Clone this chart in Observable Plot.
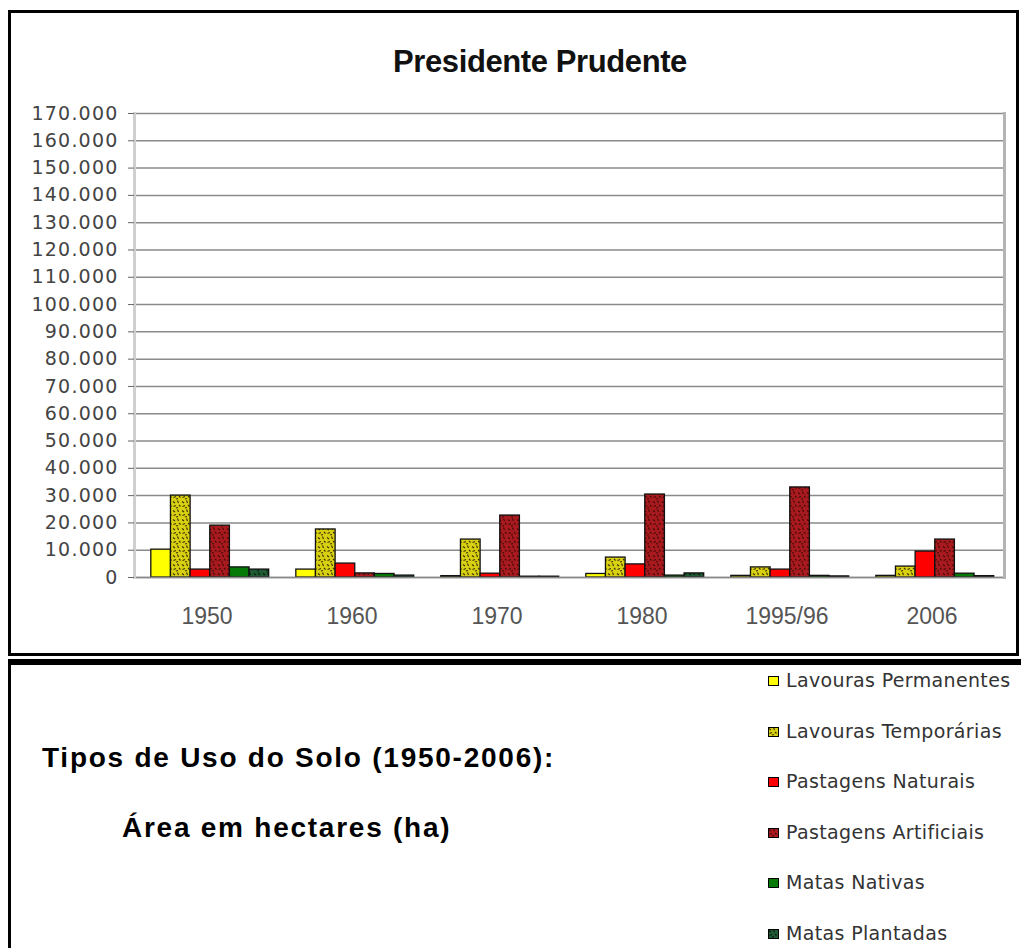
<!DOCTYPE html>
<html>
<head>
<meta charset="utf-8">
<script src="https://cdn.jsdelivr.net/npm/d3@7"></script>
<script src="https://cdn.jsdelivr.net/npm/@observablehq/plot@0.6"></script>
<style>
  html, body { margin: 0; padding: 0; background: #fff; }
  #page { position: relative; width: 1021px; height: 948px; overflow: hidden; background: #fff; }
  #topbox { position: absolute; left: 8px; top: 10px; width: 1011px; height: 646px; border: 3px solid #000; box-sizing: border-box; }
  #botbox { position: absolute; left: 8px; top: 659px; width: 1030px; height: 300px; border-left: 3px solid #000; border-top: 6px solid #000; box-sizing: border-box; }
  #title { position: absolute; left: 0; width: 1080px; top: 44px; text-align: center; font-family: "Liberation Sans", Arial, sans-serif; font-weight: bold; font-size: 31px; letter-spacing: -0.4px; color: #111; }
  #chart { position: absolute; left: 0; top: 95px; }
  .note { position: absolute; font-family: "Liberation Sans", Arial, sans-serif; font-weight: bold; font-size: 28px; letter-spacing: 1.75px; color: #000; white-space: nowrap; }
  #legend { position: absolute; left: 768px; top: 668px; font-family: "DejaVu Sans", sans-serif; font-size: 19px; color: #333; }
  .li { position: absolute; left: 0; white-space: nowrap; height: 24px; line-height: 24px; }
  .sw { position: absolute; left: 0; top: 8px; width: 11px; height: 10px; }
  .lt { position: absolute; left: 18px; top: 0; letter-spacing: 0.35px; }
  .pp g[aria-label="y-axis tick label"] text { letter-spacing: 1.2px; }
</style>
</head>
<body>
<div id="page">
  <div id="topbox"></div>
  <div id="botbox"></div>
  <div id="title">Presidente Prudente</div>
  <div id="chart"></div>
  <div class="note" style="left:42px; top:742px;">Tipos de Uso do Solo (1950-2006):</div>
  <div class="note" style="left:122px; top:812px;">Área em hectares (ha)</div>
  <div id="legend"></div>
</div>
<script>
// ---- data ----
const years = ["1950", "1960", "1970", "1980", "1995/96", "2006"];
const series = ["Lavouras Permanentes", "Lavouras Temporárias", "Pastagens Naturais", "Pastagens Artificiais", "Matas Nativas", "Matas Plantadas"];
const lavourasPermanentes = [10200, 2900, 500, 1300, 600, 600];
const lavourasTemporarias = [30000, 17600, 13900, 7300, 3700, 4000];
const pastagensNaturais   = [2900, 5100, 1400, 4800, 2900, 9500];
const pastagensArtificiais = [19000, 1500, 22700, 30400, 33000, 13900];
const matasNativas        = [3700, 1300, 300, 700, 600, 1400];
const matasPlantadas      = [2900, 700, 300, 1500, 400, 500];
// base colours; textured series get a speckle pattern on top of the base colour
const baseColors = ["#ffff00", "#d8d010", "#ff0000", "#a81a1e", "#067a06", "#1f5a33"];
const speckleColors = [null, "#3a3400", null, "#480808", null, "#061a0c"];
const yTicks = d3.range(0, 170001, 10000);

const valuesBySeries = [lavourasPermanentes, lavourasTemporarias, pastagensNaturais, pastagensArtificiais, matasNativas, matasPlantadas];
const rows = [];
years.forEach((yr, i) => series.forEach((s, j) => rows.push({year: yr, series: s, value: valuesBySeries[j][i]})));

const fills = baseColors.map((c, j) => speckleColors[j] ? `url(#pat${j})` : c);

const fmt = d3.formatLocale({decimal: ",", thousands: ".", grouping: [3], currency: ["", ""]}).format(",d");

const chart = Plot.plot({
  className: "pp",
  width: 1021,
  height: 555,
  marginLeft: 133,
  marginRight: 16,
  marginTop: 18,
  marginBottom: 73,
  style: {fontFamily: "DejaVu Sans, sans-serif", color: "#444", background: "transparent", overflow: "visible"},
  fx: {domain: years, padding: 0, label: null},
  x: {domain: series, paddingInner: 0, paddingOuter: 0.69, align: 0.62, round: false, axis: null},
  y: {domain: [0, 170000], label: null},
  color: {domain: series, range: fills},
  marks: [
    Plot.gridY(yTicks, {stroke: "#8a8a8a", strokeOpacity: 1, strokeWidth: 1.5}),
    Plot.barY(rows, {fx: "year", x: "series", y: "value", fill: "series", stroke: "#111", strokeWidth: 1.3}),
    Plot.ruleY([0], {stroke: "#8a8a8a", strokeWidth: 1.5}),
    Plot.frame({anchor: "left", facetAnchor: "left", stroke: "#cfcfcf", strokeWidth: 3}),
    Plot.frame({anchor: "right", facetAnchor: "right", stroke: "#b4b4b4", strokeWidth: 3}),
    Plot.axisY(yTicks, {tickFormat: fmt, tickSize: 6, tickPadding: 10, fontSize: 19, label: null, stroke: "#666"}),
    Plot.axisFx({anchor: "bottom", tickSize: 0, tickPadding: 30, fontSize: 23, label: null, fontFamily: "Liberation Sans, Arial, sans-serif", fill: "#555"})
  ]
});

// speckle patterns used as bar fills
const NS = "http://www.w3.org/2000/svg";
const defs = document.createElementNS(NS, "defs");
baseColors.forEach((c, j) => {
  if (!speckleColors[j]) return;
  const p = document.createElementNS(NS, "pattern");
  p.setAttribute("id", `pat${j}`);
  p.setAttribute("patternUnits", "userSpaceOnUse");
  p.setAttribute("width", 9);
  p.setAttribute("height", 9);
  const r = document.createElementNS(NS, "rect");
  r.setAttribute("width", 9); r.setAttribute("height", 9); r.setAttribute("fill", c);
  const s = document.createElementNS(NS, "path");
  s.setAttribute("d", "M1,1.5l2,1.5M5.5,0.5l1,2.5M7,5l1.5,1.5M1.5,6.5l2.5,-1M4,8l2,-0.5");
  s.setAttribute("stroke", speckleColors[j]);
  s.setAttribute("stroke-width", 1.1);
  s.setAttribute("fill", "none");
  p.appendChild(r); p.appendChild(s);
  defs.appendChild(p);
});
chart.insertBefore(defs, chart.firstChild);
document.getElementById("chart").appendChild(chart);

// ---- legend ----
const legend = document.getElementById("legend");
series.forEach((s, j) => {
  const item = document.createElement("div");
  item.className = "li";
  item.style.top = (j * 50.5) + "px";
  const sw = document.createElementNS(NS, "svg");
  sw.setAttribute("class", "sw");
  sw.setAttribute("width", 11); sw.setAttribute("height", 10);
  const rr = document.createElementNS(NS, "rect");
  rr.setAttribute("x", 0.5); rr.setAttribute("y", 0.5); rr.setAttribute("width", 10); rr.setAttribute("height", 9);
  rr.setAttribute("fill", fills[j]); rr.setAttribute("stroke", "#000"); rr.setAttribute("stroke-width", 1);
  sw.appendChild(rr);
  const tx = document.createElement("span");
  tx.className = "lt";
  tx.textContent = s;
  item.appendChild(sw);
  item.appendChild(tx);
  legend.appendChild(item);
});
</script>
</body>
</html>
